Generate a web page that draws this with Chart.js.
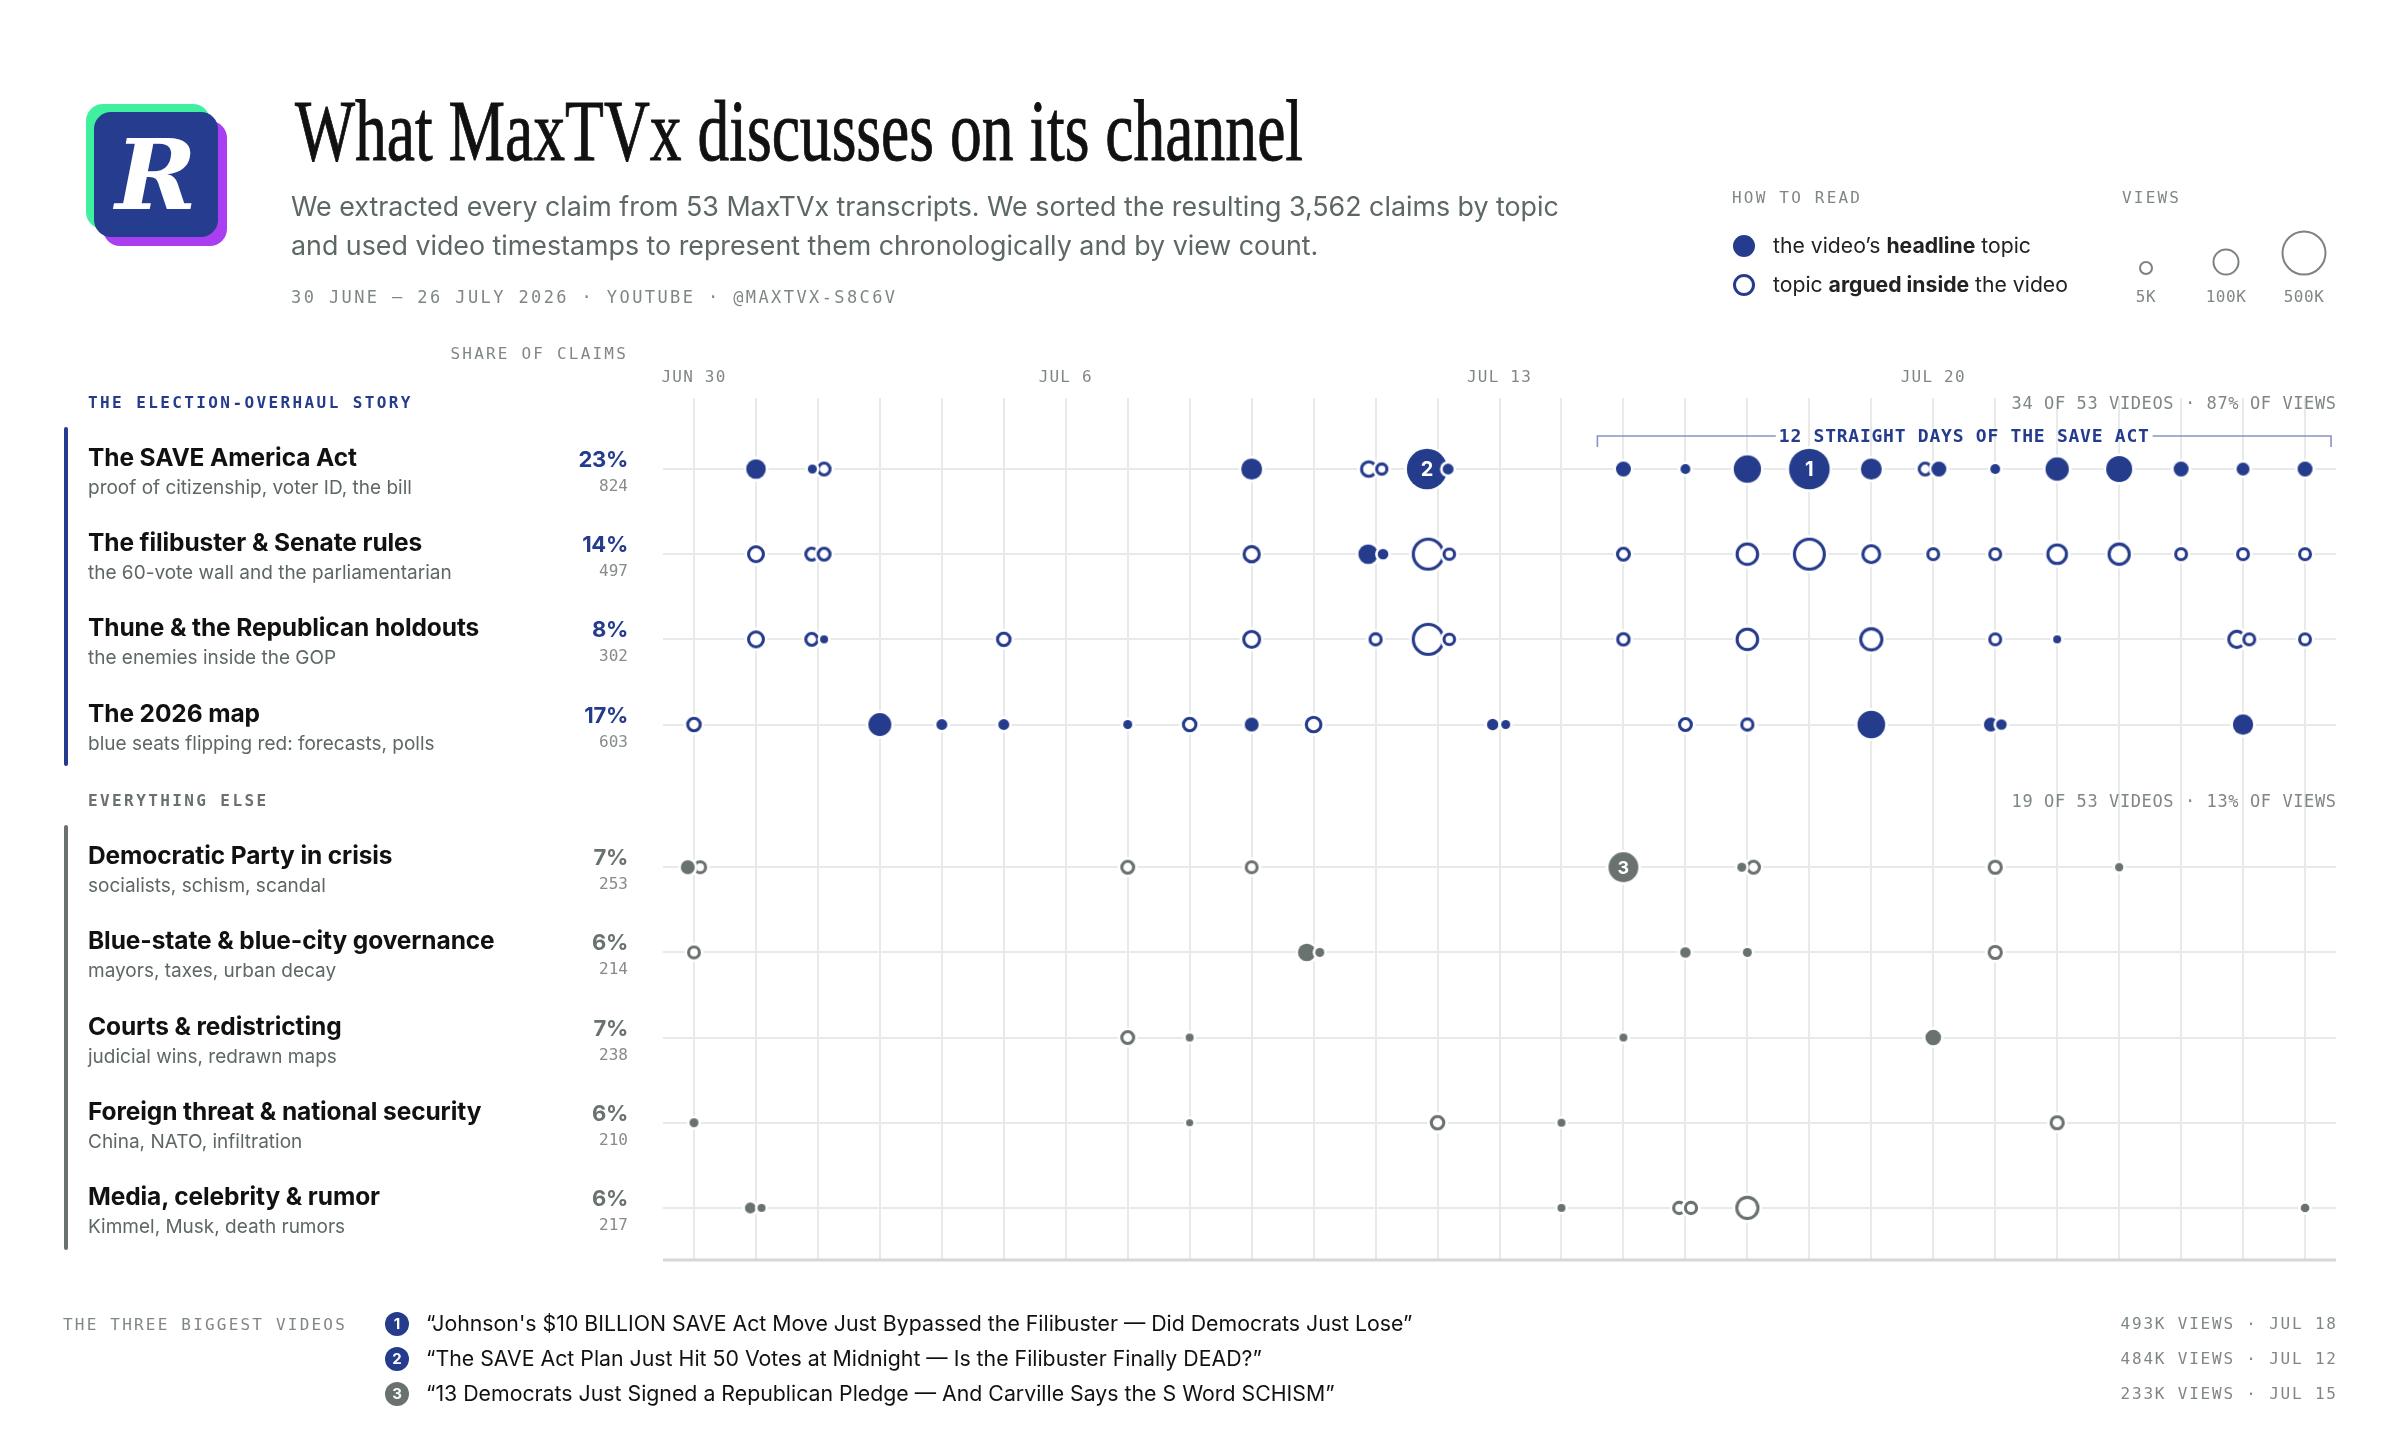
<!DOCTYPE html>
<html>
<head>
<meta charset="utf-8">
<title>What MaxTVx discusses on its channel</title>
<script src="https://cdn.jsdelivr.net/npm/chart.js"></script>
<style>
html,body{margin:0;padding:0;background:#fff;}
#wrap{position:relative;width:2400px;height:1440px;overflow:hidden;background:#fff;font-family:Inter,'Noto Sans',sans-serif;color:#111;}
#c{position:absolute;left:0;top:0;}
.t{position:absolute;white-space:nowrap;line-height:1;transform:translateY(-50%);}
.mono{font-family:'DejaVu Sans Mono','Liberation Mono',monospace;}
.lab{font-size:16px;letter-spacing:2.2px;color:#7f8784;}
.tick{font-size:16px;letter-spacing:1.2px;color:#7f8784;}
.note{font-size:17px;letter-spacing:0.6px;color:#7f8784;margin-right:-0.6px;}
.rtitle{font-size:24.5px;font-weight:700;color:#111;letter-spacing:-0.1px;}
.rnote{font-size:19px;color:#5d6764;}
.share{font-size:22px;font-weight:700;letter-spacing:-0.3px;}
.claims{font-size:16px;color:#858c8a;}
.glab{font-size:16px;font-weight:700;letter-spacing:2.4px;}
.foot{font-size:21.3px;color:#111;}
.footr{font-size:16px;letter-spacing:1.8px;color:#7f8784;margin-right:-1.8px;}
.badge{position:absolute;width:24px;height:24px;border-radius:50%;color:#fff;font-weight:700;font-size:15px;line-height:24px;text-align:center;transform:translate(-50%,-50%);font-family:Inter,sans-serif;}
.circ{position:absolute;border-radius:50%;box-sizing:border-box;transform:translate(-50%,-50%);}
</style>
</head>
<body>
<div id="wrap">
  <canvas id="c" width="2400" height="1440"></canvas>

  <!-- logo -->
  <div style="position:absolute;left:86px;top:104px;width:124px;height:125px;border-radius:17px;background:#3ff09e;"></div>
  <div style="position:absolute;left:103px;top:121px;width:124px;height:125px;border-radius:17px;background:#a93ff0;"></div>
  <div style="position:absolute;left:94px;top:112px;width:124px;height:125px;border-radius:17px;background:#263c8e;"></div>
  <div style="position:absolute;left:94px;top:112px;width:124px;height:125px;display:flex;align-items:center;justify-content:center;color:#fff;font-family:'DejaVu Serif',serif;font-weight:700;font-style:italic;font-size:98px;line-height:1;">R</div>

  <div id="title" style="position:absolute;left:295px;top:88px;display:inline-block;font-family:'Liberation Serif','DejaVu Serif',serif;font-size:86px;line-height:1;white-space:nowrap;transform-origin:0 0;color:#111;-webkit-text-stroke:0.9px #111;">What MaxTVx discusses on its channel</div>

  <div style="position:absolute;left:291px;top:187px;font-size:26.8px;line-height:39px;color:#5d6764;white-space:nowrap;">We extracted every claim from 53 MaxTVx transcripts. We sorted the resulting 3,562 claims by topic<br>and used video timestamps to represent them chronologically and by view count.</div>

  <div class="t mono" style="left:291px;top:297px;font-size:17px;letter-spacing:2.4px;color:#7f8784;">30 JUNE – 26 JULY 2026 · YOUTUBE · @MAXTVX-S8C6V</div>

  <!-- legend -->
  <div class="t mono lab" style="left:1732px;top:198px;">HOW TO READ</div>
  <div class="t mono lab" style="left:2122px;top:198px;">VIEWS</div>
  <div class="circ" style="left:1744px;top:246px;width:22px;height:22px;background:#253b8c;"></div>
  <div class="t" style="left:1773px;top:246px;font-size:21.2px;color:#222;">the video’s <b>headline</b> topic</div>
  <div class="circ" style="left:1744px;top:285px;width:22px;height:22px;border:3px solid #253b8c;"></div>
  <div class="t" style="left:1773px;top:285px;font-size:21.2px;color:#222;">topic <b>argued inside</b> the video</div>
  <div class="circ" style="left:2146px;top:268px;width:14px;height:14px;border:2px solid #7b8380;"></div>
  <div class="circ" style="left:2226px;top:262px;width:27px;height:27px;border:2px solid #7b8380;"></div>
  <div class="circ" style="left:2304px;top:253px;width:45px;height:45px;border:2px solid #7b8380;"></div>
  <div class="t mono lab" style="left:2146px;top:297px;letter-spacing:0.5px;transform:translate(-50%,-50%);">5K</div>
  <div class="t mono lab" style="left:2226px;top:297px;letter-spacing:0.5px;transform:translate(-50%,-50%);">100K</div>
  <div class="t mono lab" style="left:2304px;top:297px;letter-spacing:0.5px;transform:translate(-50%,-50%);">500K</div>

  <div id="streak" class="t mono" style="left:0;top:0;font-size:18px;font-weight:700;letter-spacing:0.75px;color:#253b8c;">12 STRAIGHT DAYS OF THE SAVE ACT</div>
</div>

<script>
// ---------------- data ----------------
const NAVY = '#253b8c';
const GREY = '#69726f';

const topicNames = ['The SAVE America Act','The filibuster & Senate rules','Thune & the Republican holdouts','The 2026 map',
  'Democratic Party in crisis','Blue-state & blue-city governance','Courts & redistricting','Foreign threat & national security','Media, celebrity & rumor'];
const topicNotes = ['proof of citizenship, voter ID, the bill','the 60-vote wall and the parliamentarian','the enemies inside the GOP','blue seats flipping red: forecasts, polls',
  'socialists, schism, scandal','mayors, taxes, urban decay','judicial wins, redrawn maps','China, NATO, infiltration','Kimmel, Musk, death rumors'];
const topicShare = ['23%','14%','8%','17%','7%','6%','7%','6%','6%'];
const topicClaims = ['824','497','302','603','253','214','238','210','217'];
const topicGroup = [0,0,0,0,1,1,1,1,1];

const groupLabels = ['THE ELECTION-OVERHAUL STORY','EVERYTHING ELSE'];
const groupNotes = ['34 OF 53 VIDEOS · 87% OF VIEWS','19 OF 53 VIDEOS · 13% OF VIEWS'];

// days since 30 June; tick labels
const dayCount = 27;
const tickDays = [0, 6, 13, 20];
const tickLabels = ['JUN 30','JUL 6','JUL 13','JUL 20'];

// marks per topic: [day (timestamp, days since Jun 30), headline? 1 : 0, views in K]
const marksSave = [[1,1,76],[1.91,1,3.7],[2.1,0,33],[9,1,92],[10.89,0,56],[11.1,0,22],[11.83,1,484],[12.17,1,10],[15,1,33],[16,1,6],[17,1,186],[18,1,493],[19,1,92],[19.87,0,33],[20.09,1,33],[21,1,6],[22,1,123],[23,1,164],[24,1,33],[25,1,20],[26,1,33]];
const marksFilibuster = [[1,0,59],[1.9,0,33],[2.1,0,33],[9,0,62],[10.88,1,76],[11.12,1,9],[11.85,0,299],[12.19,0,24],[15,0,33],[17,0,128],[18,0,299],[19,0,80],[20,0,26],[21,0,26],[22,0,101],[23,0,123],[24,0,26],[25,0,26],[26,0,26]];
const marksThune = [[1,0,59],[1.9,0,33],[2.1,1,1.6],[5,0,38],[9,0,69],[11,0,28],[11.85,0,299],[12.19,0,24],[15,0,30],[17,0,128],[19,0,137],[21,0,26],[22,1,1.6],[24.9,0,72],[25.1,0,26],[26,0,26]];
const marksMap = [[0,0,38],[3,1,118],[4,1,10],[5,1,10],[7,1,3.7],[8,0,38],[9,1,26],[10,0,56],[12.89,1,11.5],[13.1,1,3.7],[16,0,33],[17,0,28],[19,1,193],[20.93,1,26],[21.1,1,9],[25,1,84]];
const marksDem = [[-0.1,1,26],[0.1,0,26],[7,0,33],[9,0,26],[15,1,233],[16.91,1,3.7],[17.1,0,33],[21,0,35],[23,1,2.2]];
const marksBlue = [[0,0,26],[9.89,1,56],[10.1,1,3.7],[16,1,9],[17,1,3.7],[21,0,35]];
const marksCourts = [[7,0,33],[8,1,1.6],[15,1,1.6],[20,1,38]];
const marksForeign = [[0,1,3.7],[8,1,0.5],[12,0,38],[14,1,1.6],[22,0,35]];
const marksMedia = [[0.91,1,10],[1.09,1,1.6],[14,1,1.6],[15.9,0,28],[16.09,0,28],[17,0,137],[26,1,3]];
const topicMarks = [marksSave, marksFilibuster, marksThune, marksMap, marksDem, marksBlue, marksCourts, marksForeign, marksMedia];

// the SAVE Act streak (Jul 15 – Jul 26)
const streakFrom = 15, streakTo = 26;

// the three biggest videos
const topDay = [18, 11.83, 15];
const topRow = [0, 0, 4];
const topTitles = ['“Johnson\'s $10 BILLION SAVE Act Move Just Bypassed the Filibuster — Did Democrats Just Lose”',
  '“The SAVE Act Plan Just Hit 50 Votes at Midnight — Is the Filibuster Finally DEAD?”',
  '“13 Democrats Just Signed a Republican Pledge — And Carville Says the S Word SCHISM”'];
const topViews = ['493K VIEWS · JUL 18','484K VIEWS · JUL 12','233K VIEWS · JUL 15'];

// ---------------- build ----------------
const GROUP_GAP = 0.676;
const yPos = i => i + (topicGroup[i] ? GROUP_GAP : 0);
const rOf = k => 3 + 0.781 * Math.sqrt(k);

const points = [];
topicMarks.forEach((arr, row) => arr.forEach(([d, f, k]) => {
  points.push({ x: d, y: yPos(row), r: rOf(k), filled: f, row: row, color: topicGroup[row] ? GREY : NAVY });
}));
points.sort((a, b) => (a.filled - b.filled) || (b.r - a.r));

const imgCache = {};
function markImage(p) {
  const key = p.r.toFixed(2) + p.filled + p.color;
  if (imgCache[key]) return imgCache[key];
  const halo = 2.6;
  const s = Math.ceil(2 * (p.r + halo) + 2);
  const c = document.createElement('canvas');
  c.width = s; c.height = s;
  const g = c.getContext('2d');
  const cx = s / 2;
  g.fillStyle = '#fff';
  g.beginPath(); g.arc(cx, cx, p.r + halo, 0, Math.PI * 2); g.fill();
  if (p.filled) {
    g.fillStyle = p.color;
    g.beginPath(); g.arc(cx, cx, p.r, 0, Math.PI * 2); g.fill();
  } else {
    const sw = 3.1;
    g.strokeStyle = p.color; g.lineWidth = sw;
    g.beginPath(); g.arc(cx, cx, p.r - sw / 2, 0, Math.PI * 2); g.stroke();
  }
  imgCache[key] = c;
  return c;
}

const wrap = document.getElementById('wrap');
const title = document.getElementById('title');
title.style.transform = 'scaleX(' + (1008 / title.getBoundingClientRect().width) + ')';
const streakEl = document.getElementById('streak');
const streakW = streakEl.getBoundingClientRect().width;

const overlay = {
  id: 'overlay',
  beforeDatasetsDraw(chart) {
    const { ctx, chartArea: a } = chart;
    const xs = chart.scales.x, ys = chart.scales.y;
    ctx.save();
    ctx.strokeStyle = '#d6d8d7'; ctx.lineWidth = 3;
    ctx.beginPath(); ctx.moveTo(a.left, a.bottom); ctx.lineTo(a.right, a.bottom); ctx.stroke();
    // streak bracket
    const x0 = xs.getPixelForValue(streakFrom - 0.42), x1 = xs.getPixelForValue(streakTo + 0.42);
    const yb = ys.getPixelForValue(yPos(0)) - 33;
    const mid = (x0 + x1) / 2, half = streakW / 2 + 3;
    ctx.strokeStyle = '#8494c6'; ctx.lineWidth = 1.6;
    ctx.beginPath();
    ctx.moveTo(x0, yb + 11); ctx.lineTo(x0, yb); ctx.lineTo(mid - half, yb);
    ctx.moveTo(mid + half, yb); ctx.lineTo(x1, yb); ctx.lineTo(x1, yb + 11);
    ctx.stroke();
    ctx.restore();
  },
  afterDatasetsDraw(chart) {
    const { ctx } = chart;
    const meta = chart.getDatasetMeta(0);
    ctx.save();
    ctx.fillStyle = '#fff';
    ctx.textAlign = 'center'; ctx.textBaseline = 'middle';
    topDay.forEach((d, i) => {
      const idx = points.findIndex(p => p.row === topRow[i] && Math.abs(p.x - d) < 0.01);
      if (idx < 0) return;
      const el = meta.data[idx];
      ctx.font = '700 ' + (el.options.radius > 18 ? 20 : 18) + 'px Inter, sans-serif';
      ctx.fillText(String(i + 1), el.x, el.y + 1);
    });
    ctx.restore();
  }
};

const rowTicks = topicNames.map((_, i) => ({ value: yPos(i) }));
const dayTicks = [];
for (let d = 0; d < dayCount; d++) dayTicks.push({ value: d });

const chart = new Chart(document.getElementById('c'), {
  type: 'scatter',
  data: { datasets: [{
    data: points,
    pointStyle: ctx => markImage(ctx.raw),
    pointRadius: ctx => ctx.raw.r,
    pointHoverRadius: ctx => ctx.raw.r
  }] },
  options: {
    responsive: false,
    animation: false,
    events: [],
    layout: { padding: { left: 663, right: 64, top: 398, bottom: 180 } },
    plugins: { legend: { display: false }, tooltip: { enabled: false } },
    scales: {
      x: {
        type: 'linear', position: 'top', min: -0.5, max: 26.5,
        afterBuildTicks: s => { s.ticks = dayTicks.map(t => ({ value: t.value })); },
        ticks: { display: false },
        grid: { color: '#e8e9e9', lineWidth: 2, drawTicks: false },
        border: { display: false }
      },
      y: {
        type: 'linear', reverse: true, min: -0.834, max: 9.288,
        afterBuildTicks: s => { s.ticks = rowTicks.map(t => ({ value: t.value })); },
        ticks: { display: false },
        grid: { color: '#e8e9e9', lineWidth: 2, drawTicks: false },
        border: { display: false }
      }
    }
  },
  plugins: [overlay]
});

// ---------------- text positioned from the scales ----------------
function txt(s, x, y, cls, align, html) {
  const d = document.createElement('div');
  d.className = 't ' + (cls || '');
  if (html) d.innerHTML = s; else d.textContent = s;
  d.style.top = y + 'px';
  if (align === 'right') d.style.right = (2400 - x) + 'px';
  else if (align === 'center') { d.style.left = x + 'px'; d.style.transform = 'translate(-50%,-50%)'; }
  else d.style.left = x + 'px';
  wrap.appendChild(d);
  return d;
}
const xs = chart.scales.x, ys = chart.scales.y, area = chart.chartArea;
const rowY = i => ys.getPixelForValue(yPos(i));

tickDays.forEach((d, i) => txt(tickLabels[i], xs.getPixelForValue(d), area.top - 21, 'mono tick', 'center'));
txt('SHARE OF CLAIMS', 628, area.top - 44, 'mono lab', 'right');

topicNames.forEach((n, i) => {
  const y = rowY(i);
  txt(n, 88, y - 12, 'rtitle');
  txt(topicNotes[i], 88, y + 18, 'rnote');
  const s = txt(topicShare[i], 628, y - 10, 'share', 'right');
  s.style.color = topicGroup[i] ? GREY : NAVY;
  txt(topicClaims[i], 628, y + 17, 'mono claims', 'right');
});

groupLabels.forEach((g, gi) => {
  const rows = topicNames.map((_, i) => i).filter(i => topicGroup[i] === gi);
  const y0 = rowY(rows[0]), y1 = rowY(rows[rows.length - 1]);
  const col = gi ? GREY : NAVY;
  const l = txt(g, 88, y0 - 66, 'mono glab'); l.style.color = col;
  txt(groupNotes[gi], area.right, y0 - 66, 'mono note', 'right');
  const bar = document.createElement('div');
  bar.style.cssText = 'position:absolute;left:64px;width:4px;border-radius:2px;background:' + col +
    ';top:' + (y0 - 42) + 'px;height:' + (y1 - y0 + 84) + 'px;';
  wrap.appendChild(bar);
});

// streak label
const sx0 = xs.getPixelForValue(streakFrom - 0.42), sx1 = xs.getPixelForValue(streakTo + 0.42);
streakEl.style.left = ((sx0 + sx1) / 2) + 'px';
streakEl.style.top = (rowY(0) - 33) + 'px';
streakEl.style.transform = 'translate(-50%,-50%)';

// footer
const footY = [1324, 1359, 1394];
txt('THE THREE BIGGEST VIDEOS', 63, 1325, 'mono lab');
topTitles.forEach((t, i) => {
  const b = document.createElement('div');
  b.className = 'badge';
  b.textContent = String(i + 1);
  b.style.left = '397px'; b.style.top = footY[i] + 'px';
  b.style.background = topicGroup[topRow[i]] ? GREY : NAVY;
  wrap.appendChild(b);
  txt(t, 426, footY[i], 'foot');
  txt(topViews[i], area.right, footY[i], 'mono footr', 'right');
});
</script>
</body>
</html>
